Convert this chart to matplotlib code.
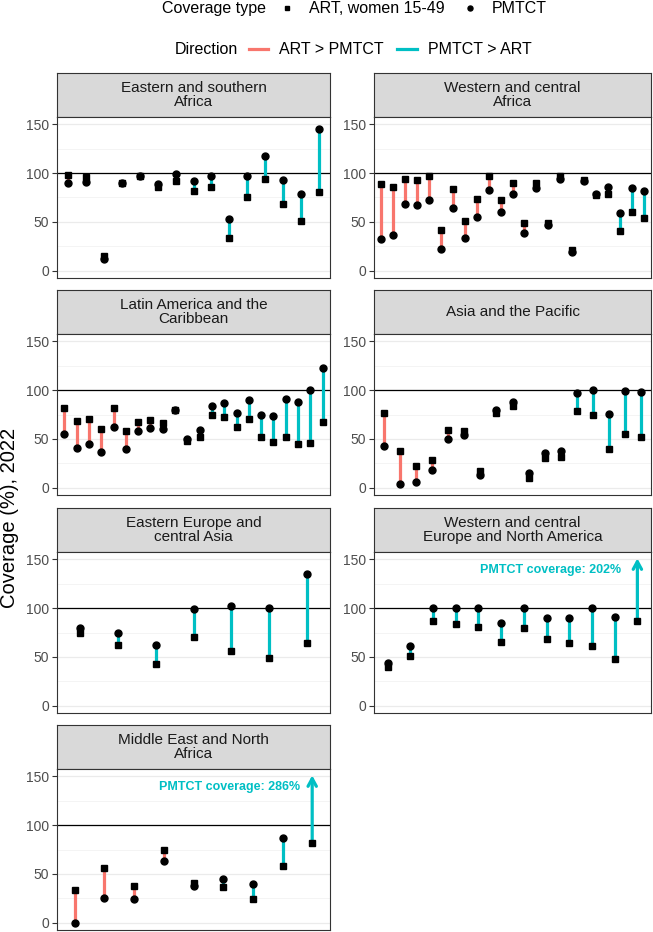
import numpy as np
import matplotlib
matplotlib.use('Agg')
import matplotlib.pyplot as plt
from matplotlib.lines import Line2D

plt.rcParams['font.family'] = ['Liberation Sans', 'DejaVu Sans']

# ---- data ----
region_titles = [
    'Eastern and southern\nAfrica',
    'Western and central\nAfrica',
    'Latin America and the\nCaribbean',
    'Asia and the Pacific',
    'Eastern Europe and\ncentral Asia',
    'Western and central\nEurope and North America',
    'Middle East and North\nAfrica',
]

esa_art = [98, 96, 15, 90, 97, 86, 92, 82, 86, 33, 76, 94, 68, 51, 81]
esa_pmtct = [90, 91, 12, 90, 97, 89, 99, 92, 97, 53, 97, 118, 93, 79, 145]

wca_art = [89, 86, 94, 93, 97, 42, 84, 51, 73, 97, 72, 90, 49, 90, 49, 97, 21, 93, 78, 79, 41, 60, 54]
wca_pmtct = [32, 37, 68, 67, 72, 22, 64, 33, 55, 83, 60, 79, 39, 85, 47, 94, 19, 92, 79, 86, 59, 85, 82]

lac_art = [82, 68, 70, 60, 82, 58, 67, 69, 66, 80, 48, 52, 75, 72, 62, 70, 52, 47, 52, 45, 46, 67]
lac_pmtct = [55, 41, 45, 37, 62, 40, 58, 61, 60, 80, 50, 59, 84, 87, 77, 90, 74, 73, 91, 88, 100, 123]

ap_art = [77, 38, 22, 28, 59, 58, 17, 77, 84, 10, 30, 31, 79, 75, 40, 55, 52]
ap_pmtct = [43, 4, 6, 18, 50, 54, 13, 80, 88, 15, 36, 38, 97, 100, 76, 99, 98]

eeca_art = [75, 62, 43, 70, 56, 49, 64]
eeca_pmtct = [80, 75, 62, 99, 102, 100, 135]

wcena_art = [40, 51, 87, 84, 81, 65, 80, 68, 64, 61, 48, 87]
wcena_pmtct = [44, 61, 100, 100, 100, 85, 100, 90, 90, 100, 91, 202]

mena_art = [34, 56, 38, 75, 41, 37, 24, 58, 82]
mena_pmtct = [0, 25, 24, 63, 38, 45, 40, 87, 286]

panel_art = [esa_art, wca_art, lac_art, ap_art, eeca_art, wcena_art, mena_art]
panel_pmtct = [esa_pmtct, wca_pmtct, lac_pmtct, ap_pmtct, eeca_pmtct, wcena_pmtct, mena_pmtct]

CAP = 150          # PMTCT values above this are shown as an arrow + label
RED = '#F8766D'
CYAN = '#00BFC4'
GREY20 = '#333333'

# ---- layout in pixels ----
W, H = 653, 932
fig = plt.figure(figsize=(W / 100, H / 100), dpi=100)


def box(l, t, r, b):
    return [l / W, 1 - b / H, (r - l) / W, (b - t) / H]


col_x = [(57, 330), (374, 651)]
row_top = [73, 290, 508, 725]
STRIP = 44
PANEL = 161
label_x = {5: 11.3, 6: 8.6}   # right edge of the over-cap labels

for i, (title, art, pmtct) in enumerate(zip(region_titles, panel_art, panel_pmtct)):
    r, c = divmod(i, 2)
    left, right = col_x[c]
    top = row_top[r]

    # strip
    sax = fig.add_axes(box(left, top, right, top + STRIP))
    sax.set_facecolor('#D9D9D9')
    sax.set_xticks([])
    sax.set_yticks([])
    for sp in sax.spines.values():
        sp.set_color(GREY20)
        sp.set_linewidth(0.8)
    sax.text(0.5, 0.5, title, ha='center', va='center', fontsize=11,
             color='#1A1A1A', linespacing=1.0, transform=sax.transAxes)

    # panel
    ax = fig.add_axes(box(left, top + STRIP, right, top + STRIP + PANEL))
    art = np.array(art, dtype=float)
    pmtct = np.array(pmtct, dtype=float)
    n = len(art)
    x = np.arange(1, n + 1)
    ok = pmtct <= CAP

    cols = [RED if a > p else CYAN for a, p in zip(art[ok], pmtct[ok])]
    ax.vlines(x[ok], art[ok], pmtct[ok], colors=cols, lw=2.3, zorder=2)

    for xi, a, p in zip(x[~ok], art[~ok], pmtct[~ok]):
        ax.annotate('', xy=(xi, 151), xytext=(xi, a),
                    arrowprops=dict(arrowstyle='->,head_length=0.55,head_width=0.3',
                                    color=CYAN, lw=2.3, shrinkA=0, shrinkB=0),
                    zorder=2)
        ax.text(label_x.get(i, n - 0.5), 139, f'PMTCT coverage: {int(p)}%',
                ha='right', va='center', color=CYAN, fontweight='bold', fontsize=9)

    ax.plot(x, art, 's', color='black', ms=4.6, zorder=3)
    ax.plot(x[ok], pmtct[ok], 'o', color='black', ms=5.0, zorder=3)

    ax.axhline(100, color='black', lw=0.9, zorder=1.5)

    ax.set_xlim(0.4, n + 0.6)
    ax.set_ylim(-7.5, 157.5)
    ax.set_yticks([0, 50, 100, 150])
    ax.set_yticks([25, 75, 125], minor=True)
    ax.set_xticks([])
    ax.grid(axis='y', which='major', color='#EBEBEB', lw=0.9, zorder=0)
    ax.grid(axis='y', which='minor', color='#F3F3F3', lw=0.6, zorder=0)
    ax.set_axisbelow(True)
    ax.tick_params(axis='y', which='major', length=3.5, width=0.8, color=GREY20,
                   labelcolor='#4D4D4D', labelsize=10, pad=2)
    ax.tick_params(axis='y', which='minor', length=0)
    for sp in ax.spines.values():
        sp.set_color(GREY20)
        sp.set_linewidth(0.8)

# y axis title
fig.text(10 / W, 1 - 518 / H, 'Coverage (%), 2022', rotation=90, ha='center',
         va='center', fontsize=14.5)


# ---- legends (manual, ggplot style on top) ----
def fx(px):
    return px / W


def fy(py):
    return 1 - py / H


fs_leg = 11.5
fig.text(fx(162), fy(12.7), 'Coverage type', fontsize=fs_leg, va='baseline')
fig.add_artist(Line2D([fx(287)], [fy(7.5)], marker='s', ms=3.2, color='black',
                      ls='none', transform=fig.transFigure))
fig.text(fx(309), fy(12.7), 'ART, women 15-49', fontsize=fs_leg, va='baseline')
fig.add_artist(Line2D([fx(470)], [fy(7.5)], marker='o', ms=3.6, color='black',
                      ls='none', transform=fig.transFigure))
fig.text(fx(492), fy(12.7), 'PMTCT', fontsize=fs_leg, va='baseline')

fig.text(fx(175), fy(54.5), 'Direction', fontsize=fs_leg, va='baseline')
fig.add_artist(Line2D([fx(249), fx(268)], [fy(49), fy(49)], color=RED, lw=2.3,
                      transform=fig.transFigure))
fig.text(fx(279), fy(54.5), 'ART > PMTCT', fontsize=fs_leg, va='baseline')
fig.add_artist(Line2D([fx(397), fx(417)], [fy(49), fy(49)], color=CYAN, lw=2.3,
                      transform=fig.transFigure))
fig.text(fx(428), fy(54.5), 'PMTCT > ART', fontsize=fs_leg, va='baseline')

fig.savefig('out.png', dpi=100)
